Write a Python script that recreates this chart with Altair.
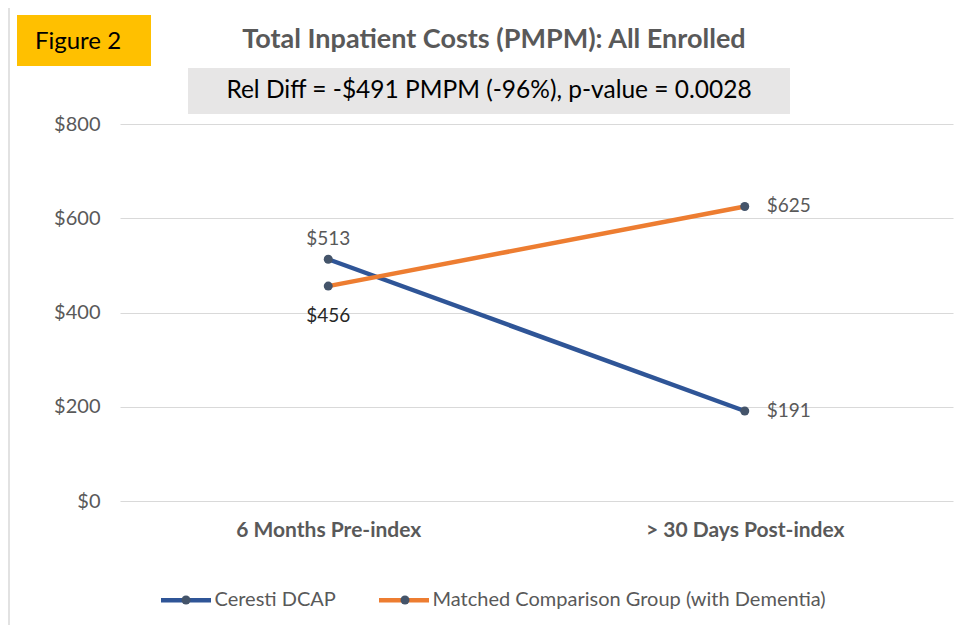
import altair as alt
import pandas as pd

# ---- data ----
categories = ["6 Months Pre-index", "> 30 Days Post-index"]
series_names = ["Ceresti DCAP", "Matched Comparison Group (with Dementia)"]
ceresti_values = [513, 191]
matched_values = [456, 625]
y_ticks = [0, 200, 400, 600, 800]

figure_label = "Figure 2"
chart_title = "Total Inpatient Costs (PMPM): All Enrolled"
subtitle_text = "Rel Diff = -$491 PMPM (-96%), p-value = 0.0028"

rows = []
for cat, v in zip(categories, ceresti_values):
    rows.append({"category": cat, "series": series_names[0], "value": v})
for cat, v in zip(categories, matched_values):
    rows.append({"category": cat, "series": series_names[1], "value": v})
df = pd.DataFrame(rows)
df["marker_series"] = df["series"]

FONT = "Lato"
GRAY = "#595959"
BLUE = "#2F5597"
ORANGE = "#ED7D31"
MARKER = "#44546A"

x_enc = alt.X(
    "category:N",
    sort=categories,
    scale=alt.Scale(type="point", padding=0.5),
    axis=alt.Axis(
        title=None, labelAngle=0, labelFontWeight="bold", labelFontSize=21,
        labelColor=GRAY, ticks=False, domain=False, labelPadding=18, grid=False,
        labelFont=FONT, labelLimit=400,
    ),
)
y_enc = alt.Y(
    "value:Q",
    scale=alt.Scale(domain=[0, 800]),
    axis=alt.Axis(
        values=y_ticks, format="$,.0f", title=None, ticks=False, domain=False,
        labelPadding=20, gridColor="#d9d9d9", gridWidth=1, labelFontSize=20,
        labelColor=GRAY, labelFont=FONT,
    ),
)

base = alt.Chart(df)

legend_common = dict(
    orient="none", legendX=38.5, legendY=448.5, direction="horizontal",
    columns=2, title=None, labelFontSize=20, labelFont=FONT, labelLimit=700,
    labelOffset=1, padding=0,
)

lines = base.mark_line(strokeWidth=4.5).encode(
    x=x_enc,
    y=y_enc,
    color=alt.Color(
        "series:N",
        sort=series_names,
        scale=alt.Scale(domain=series_names, range=[BLUE, ORANGE]),
        legend=alt.Legend(
            symbolType="stroke", symbolSize=2500, symbolStrokeWidth=4.5,
            labelColor=GRAY, columnPadding=33, **legend_common,
        ),
    ),
)

# marker legend drawn on top of the line legend (data-driven domain keeps it separate)
points = base.mark_point(filled=True, size=81, color=MARKER, opacity=1).encode(
    x=x_enc,
    y=y_enc,
    shape=alt.Shape(
        "marker_series:N",
        sort=series_names,
        scale=alt.Scale(range=["circle", "circle"]),
        legend=alt.Legend(
            symbolType="circle", symbolSize=81, symbolStrokeWidth=46,
            symbolStrokeColor="transparent", symbolFillColor=MARKER,
            symbolOpacity=1,
            labelOpacity=0, labelColor="transparent",
            columnPadding=-28,
            **legend_common,
        ),
    ),
)

label_common = dict(font=FONT, fontSize=19)
lab_above = base.transform_filter(
    (alt.datum.series == series_names[0]) & (alt.datum.category == categories[0])
).mark_text(dy=-20, color=GRAY, **label_common).encode(
    x=x_enc, y=y_enc, text=alt.Text("value:Q", format="$,.0f"))
lab_below = base.transform_filter(
    (alt.datum.series == series_names[1]) & (alt.datum.category == categories[0])
).mark_text(dy=30, color="#262626", **label_common).encode(
    x=x_enc, y=y_enc, text=alt.Text("value:Q", format="$,.0f"))
lab_right = base.transform_filter(
    alt.datum.category == categories[1]
).mark_text(dx=22, align="left", color=GRAY, **label_common).encode(
    x=x_enc, y=y_enc, text=alt.Text("value:Q", format="$,.0f"))

# ---- decorations (frame, boxes, titles) ----
deco = alt.Chart(pd.DataFrame({"fig": [figure_label], "title": [chart_title], "sub": [subtitle_text]}))

frame = deco.mark_rect(fill="transparent", stroke="#d9d9d9", strokeWidth=1.5).encode(
    x=alt.value(-111), x2=alt.value(900), y=alt.value(-119), y2=alt.value(700))
fig_box = deco.mark_rect(fill="#FFC000").encode(
    x=alt.value(-103), x2=alt.value(31), y=alt.value(-109), y2=alt.value(-58))
fig_text = deco.mark_text(font=FONT, fontSize=24, color="#000000", align="center",
                          baseline="middle").encode(
    x=alt.value(-42), y=alt.value(-82), text="fig:N")
title_text = deco.mark_text(font=FONT, fontSize=27, fontWeight="bold", color=GRAY,
                            align="center", baseline="middle").encode(
    x=alt.value(374), y=alt.value(-84), text="title:N")
sub_box = deco.mark_rect(fill="#E7E6E6").encode(
    x=alt.value(68), x2=alt.value(670), y=alt.value(-56), y2=alt.value(-10))
sub_text = deco.mark_text(font=FONT, fontSize=24.5, color="#000000", align="center",
                          baseline="middle").encode(
    x=alt.value(369), y=alt.value(-33), text="sub:N")

chart = alt.layer(
    frame, fig_box, fig_text, title_text, sub_box, sub_text,
    lines, points, lab_above, lab_below, lab_right,
).properties(
    width=833, height=377,
    autosize=alt.AutoSizeParams(type="none"),
    padding={"left": 112, "top": 116, "right": 10, "bottom": 124},
).configure(font=FONT, view=alt.ViewConfig(stroke="transparent", strokeWidth=0))

chart.save("out.html", embed_options={"renderer": "svg", "actions": False})
